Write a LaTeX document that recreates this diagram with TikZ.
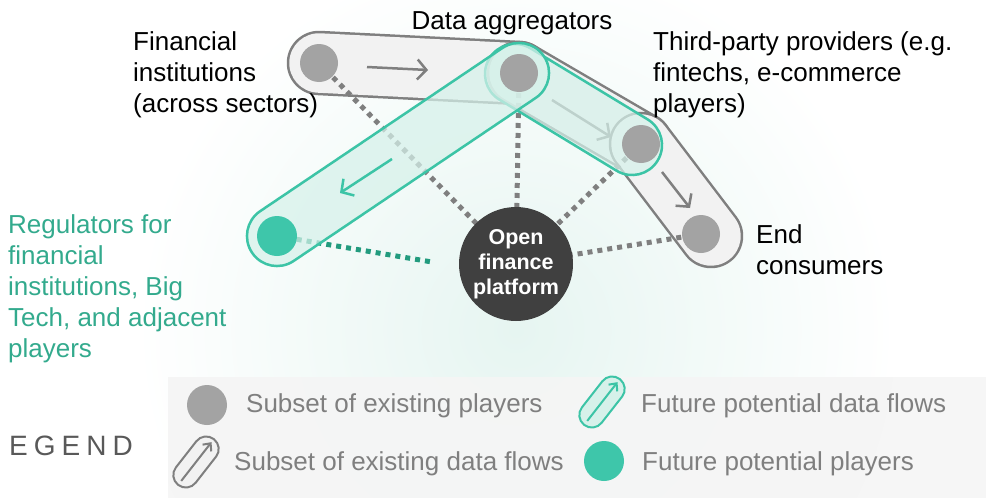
\documentclass[tikz,border=0pt]{standalone}
\usepackage{fontspec}
\setmainfont{Liberation Sans}
\usetikzlibrary{arrows.meta,calc}

\definecolor{capline}{HTML}{7F7F7F}
\definecolor{capfill}{HTML}{F2F2F2}
\definecolor{playergray}{HTML}{A3A3A3}
\definecolor{tealline}{HTML}{3CC4A6}
\definecolor{tealdot}{HTML}{3EC6AA}
\definecolor{tealfill}{HTML}{D6F1EA}
\definecolor{tealtext}{HTML}{33AA8D}
\definecolor{tealdash}{HTML}{229B7E}
\definecolor{hubdark}{HTML}{404040}
\definecolor{legendbg}{HTML}{F5F5F5}
\definecolor{legendtext}{HTML}{7F7F7F}
\definecolor{legendhead}{HTML}{595959}
\definecolor{glow}{HTML}{E6F5F1}

\begin{document}
\begin{tikzpicture}[x=1pt,y=-1pt,
  grayouter/.style={line width=64.5pt, draw=capline, line cap=round},
  grayinner/.style={line width=59.5pt, draw=capfill, line cap=round},
  greencap/.style={draw=tealline, line width=2.5pt, fill=tealfill, fill opacity=0.72,
    rounded corners=29.9pt, minimum height=60pt, inner sep=0pt},
  iconcap/.style={line width=2pt, rounded corners=12.4pt, minimum width=58pt,
    minimum height=25pt, inner sep=0pt, rotate=52},
  linkdots/.style={line width=5pt, draw=capline, dash pattern=on 5pt off 5pt},
  flowarrow/.style={line width=2.5pt, draw=capline, -{Straight Barb[length=9pt,width=20pt]}},
  iconarrow/.style={line width=2pt, -{Straight Barb[length=6pt,width=11pt]}},
  player/.style={circle, fill=playergray, minimum size=38pt, inner sep=0pt},
  newplayer/.style={circle, fill=tealdot, minimum size=40pt, inner sep=0pt},
  maintext/.style={font=\fontsize{26}{31}\selectfont, align=left, inner sep=0pt, anchor=base west},
  legendlabel/.style={font=\fontsize{26}{31}\selectfont, text=legendtext, inner sep=0pt, anchor=base west},
]
\useasboundingbox (0,0) rectangle (986,498);
\clip (0,0) rectangle (986,498);

% positions of the players and the platform
\coordinate (fiC) at (319,63);
\coordinate (daC) at (519,73);
\coordinate (tpC) at (641,144);
\coordinate (ecC) at (701,234);
\coordinate (ecEnd) at (711,236);
\coordinate (regC) at (277,236);
\coordinate (hubC) at (516,264);
\coordinate (regEnd) at (432,262);
\coordinate (daTpA) at (515,74);
\coordinate (daTpB) at (632,145);

% soft glow behind the platform
\shade[inner color=glow, outer color=white] (516,330) circle (380pt);

% legend panel
\fill[legendbg, fill opacity=0.9] (168,377) rectangle (986,498);

% existing data flows
\draw[grayouter] (fiC) -- (daC);
\draw[grayinner] (fiC) -- (daC);
\draw[grayouter] (daC) -- (tpC);
\draw[grayinner] (daC) -- (tpC);
\draw[grayouter] (tpC) -- (ecEnd);
\draw[grayinner] (tpC) -- (ecEnd);

\coordinate (a1s) at (367,67);  \coordinate (a1e) at (428,70);
\coordinate (a2s) at (552,100); \coordinate (a2e) at (611,137);
\coordinate (a3s) at (662,172); \coordinate (a3e) at (690,208);
\draw[flowarrow] (a1s) -- (a1e);
\draw[flowarrow] (a2s) -- (a2e);
\draw[flowarrow] (a3s) -- (a3e);

% links to the platform
\draw[linkdots] (fiC) -- (hubC);
\draw[linkdots] (daC) -- (hubC);
\draw[linkdots] (tpC) -- (hubC);
\draw[linkdots] (ecC) -- (hubC);
\draw[linkdots, draw=tealdash] (regC) -- (regEnd);

% future data flows
\path let \p1=($(daTpB)-(daTpA)$), \n1={veclen(\x1,\y1)}, \n2={atan2(\y1,\x1)} in
  node[greencap, minimum width={\n1+60pt}, rotate=\n2] (tpFlow) at ($(daTpA)!0.5!(daTpB)$) {};
\path let \p1=($(regC)-(daC)$), \n1={veclen(\x1,\y1)}, \n2={atan2(\y1,\x1)} in
  node[greencap, minimum width={\n1+60pt}, rotate=\n2] (regFlow) at ($(daC)!0.5!(regC)$) {};

% players
\node[player] (fi) at (fiC) {};
\node[player] (da) at (daC) {};
\node[player] (tp) at (tpC) {};
\node[player] (ec) at (ecC) {};
\node[newplayer] (reg) at (regC) {};

\coordinate (a4s) at (392,159); \coordinate (a4e) at (340,193);
\draw[flowarrow, draw=tealline] (a4s) -- (a4e);

% platform
\node[circle, fill=hubdark, minimum size=114pt, inner sep=0pt, text=white,
  font=\bfseries\fontsize{21.5}{25}\selectfont, align=center] (hub) at (hubC)
  {Open\\finance\\platform};

% player labels (anchored at the baseline of their last line)
\node[maintext] (fiLabel) at (133,112) {Financial\\institutions\\(across sectors)};
\node[maintext, anchor=base] (daLabel) at (512,29) {Data aggregators};
\node[maintext] (tpLabel) at (653,112) {Third-party providers (e.g.\\fintechs, e-commerce\\players)};
\node[maintext] (ecLabel) at (756,274) {End\\consumers};
\node[maintext, text=tealtext] (regLabel) at (8,357)
  {Regulators for\\financial\\institutions, Big\\Tech, and adjacent\\players};

% legend
\node[font=\fontsize{28}{30}\selectfont, text=legendhead, anchor=base west, inner sep=0pt]
  (legendTitle) at (9,455) {E\hspace{6pt}G\hspace{6pt}E\hspace{6pt}N\hspace{6pt}D};

\node[player, minimum size=40pt] (legPlayer) at (207,405) {};
\node[legendlabel] (legPlayerText) at (246,412) {Subset of existing players};

\node[iconcap, draw=capline, fill=capfill] (legFlow) at (196,462) {};
\draw[iconarrow, draw=capline] ($(legFlow.west)!0.1!(legFlow.east)$) -- ($(legFlow.west)!0.92!(legFlow.east)$);
\node[legendlabel] (legFlowText) at (234,470) {Subset of existing data flows};

\node[iconcap, draw=tealline, fill=tealfill] (legNewFlow) at (602,402) {};
\draw[iconarrow, draw=tealline] ($(legNewFlow.west)!0.1!(legNewFlow.east)$) -- ($(legNewFlow.west)!0.92!(legNewFlow.east)$);
\node[legendlabel] (legNewFlowText) at (641,412) {Future potential data flows};

\node[newplayer] (legNew) at (604,461) {};
\node[legendlabel] (legNewText) at (642,470) {Future potential players};
\end{tikzpicture}
\end{document}
